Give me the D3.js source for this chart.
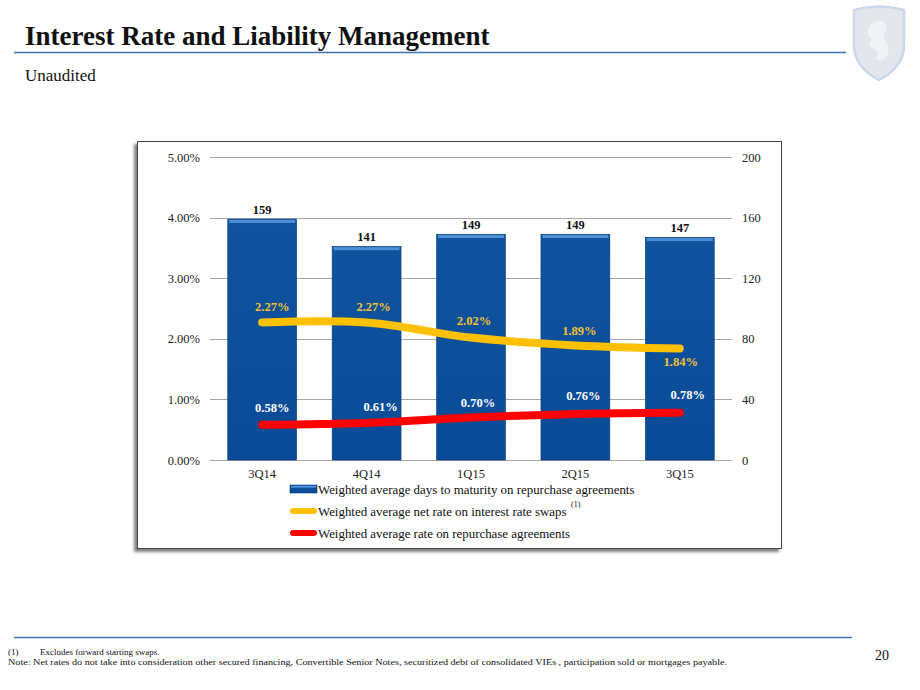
<!DOCTYPE html>
<html>
<head>
<meta charset="utf-8">
<script src="https://cdn.jsdelivr.net/npm/d3@7"></script>
<style>
  body { margin: 0; background: #fff; }
  svg { display: block; }
  svg text { font-family: "Liberation Serif", "DejaVu Serif", serif; }
</style>
</head>
<body>
<div class="chart"></div>
<script>
// data
const quarters = ["3Q14", "4Q14", "1Q15", "2Q15", "3Q15"];
const daysToMaturity = [159, 141, 149, 149, 147];
const swapRate = [2.27, 2.27, 2.02, 1.89, 1.84];
const repoRate = [0.58, 0.61, 0.70, 0.76, 0.78];
const leftTicks = [0, 1, 2, 3, 4, 5];
const rightTicks = [0, 40, 80, 120, 160, 200];
const legendLabels = [
  "Weighted average days to maturity on repurchase agreements",
  "Weighted average net rate on interest rate swaps",
  "Weighted average rate on repurchase agreements"
];

const W = 920, H = 690;
const svg = d3.select(".chart").append("svg")
  .attr("width", W).attr("height", H);

const defs = svg.append("defs");
const grad = defs.append("linearGradient").attr("id", "barGrad")
  .attr("x1", 0).attr("y1", 0).attr("x2", 0).attr("y2", 1);
grad.append("stop").attr("offset", "0%").attr("stop-color", "#0f539f");
grad.append("stop").attr("offset", "100%").attr("stop-color", "#0a4b97");
const shadow = defs.append("filter").attr("id", "shadow")
  .attr("x", "-5%").attr("y", "-5%").attr("width", "110%").attr("height", "110%");
shadow.append("feGaussianBlur").attr("in", "SourceAlpha").attr("stdDeviation", 1.5);
shadow.append("feOffset").attr("dx", -3).attr("dy", 3).attr("result", "b");
shadow.append("feComponentTransfer").attr("in", "b").attr("result", "c")
  .append("feFuncA").attr("type", "linear").attr("slope", 0.5);
const fm = shadow.append("feMerge");
fm.append("feMergeNode").attr("in", "c");
fm.append("feMergeNode").attr("in", "SourceGraphic");

/* slide header */
svg.append("text").attr("x", 25).attr("y", 45)
  .attr("font-size", 27).attr("font-weight", "bold").attr("fill", "#111")
  .text("Interest Rate and Liability Management");
svg.append("line").attr("x1", 14).attr("x2", 846).attr("y1", 52.5).attr("y2", 52.5)
  .attr("stroke", "#3f73b3").attr("stroke-width", 1.5);
svg.append("text").attr("x", 25).attr("y", 81)
  .attr("font-size", 17).attr("fill", "#111").text("Unaudited");

// faint shield logo
const logo = svg.append("g").attr("transform", "translate(852,5)");
logo.append("path")
  .attr("d", "M2,5 Q27,-2 52,5 L52,40 Q52,62 27,75 Q2,62 2,40 Z")
  .attr("fill", "#e3e6ea").attr("stroke", "#cbd8ea").attr("stroke-width", 2.5);
logo.append("path")
  .attr("d", "M16,24 Q20,14 30,16 Q36,18 34,26 Q30,30 33,36 Q40,44 34,52 Q30,58 24,54 Q28,48 22,44 Q14,40 20,34 Q14,30 16,24 Z")
  .attr("fill", "#f2f3f5").attr("opacity", 0.9);

/* chart frame */
svg.append("rect").attr("x", 137.5).attr("y", 141.5).attr("width", 644).attr("height", 407)
  .attr("fill", "#fff").attr("stroke", "#444").attr("stroke-width", 1)
  .attr("filter", "url(#shadow)");

const plot = {left: 210, right: 732, top: 157, bottom: 460};

const x = d3.scaleBand().domain(quarters)
  .range([plot.left, plot.right]).paddingInner(0.34).paddingOuter(0.17);
const yRate = d3.scaleLinear().domain([0, 5]).range([plot.bottom, plot.top]);
const yDays = d3.scaleLinear().domain([0, 200]).range([plot.bottom, plot.top]);
const cx = d => x(d) + x.bandwidth() / 2;

// gridlines
svg.append("g").selectAll("line").data(leftTicks).join("line")
  .attr("x1", plot.left).attr("x2", plot.right)
  .attr("y1", d => Math.round(yRate(d)) + 0.5).attr("y2", d => Math.round(yRate(d)) + 0.5)
  .attr("stroke", "#a6a6a6").attr("stroke-width", 1);

function styleAxis(g) {
  g.attr("font-family", null);
  g.select(".domain").remove();
  g.selectAll("text").attr("font-size", 12.5).attr("fill", "#222");
}

// left axis
const yAxisL = d3.axisLeft(yRate).tickValues(leftTicks)
  .tickFormat(d => d.toFixed(2) + "%").tickSize(0).tickPadding(10);
svg.append("g").attr("transform", `translate(${plot.left},0)`).call(yAxisL).call(styleAxis);

// right axis
const yAxisR = d3.axisRight(yDays).tickValues(rightTicks).tickSize(0).tickPadding(10);
svg.append("g").attr("transform", `translate(${plot.right},0)`).call(yAxisR).call(styleAxis);

// bottom axis
const xAxis = d3.axisBottom(x).tickSize(0).tickPadding(9);
svg.append("g").attr("transform", `translate(0,${plot.bottom})`).call(xAxis).call(styleAxis);

/* bars */
const bars = svg.append("g").selectAll("g").data(quarters).join("g");
bars.append("rect")
  .attr("x", d => x(d)).attr("width", x.bandwidth())
  .attr("y", (d, i) => yDays(daysToMaturity[i]))
  .attr("height", (d, i) => plot.bottom - yDays(daysToMaturity[i]))
  .attr("fill", "url(#barGrad)").attr("stroke", "#083c7a").attr("stroke-width", 0.6);
bars.append("rect")
  .attr("x", d => x(d) + 1.5).attr("width", x.bandwidth() - 3)
  .attr("y", (d, i) => yDays(daysToMaturity[i]) + 0.8).attr("height", 3)
  .attr("fill", "#4f8fd8");
bars.append("text")
  .attr("x", d => cx(d))
  .attr("y", (d, i) => yDays(daysToMaturity[i]) - 5)
  .attr("text-anchor", "middle").attr("font-size", 12.5).attr("font-weight", "bold")
  .attr("fill", "#111")
  .text((d, i) => daysToMaturity[i]);

/* lines */
const line = d3.line()
  .x(d => cx(d.q)).y(d => yRate(d.v))
  .curve(d3.curveCatmullRom.alpha(0.5));

svg.append("path")
  .datum(quarters.map((q, i) => ({q, v: swapRate[i]})))
  .attr("d", line).attr("fill", "none")
  .attr("stroke", "#ffc000").attr("stroke-width", 8).attr("stroke-linecap", "round");

svg.append("path")
  .datum(quarters.map((q, i) => ({q, v: repoRate[i]})))
  .attr("d", line).attr("fill", "none")
  .attr("stroke", "#ff0000").attr("stroke-width", 8).attr("stroke-linecap", "round");

// line labels (baseline offsets from the point)
const swapOffset = [-11, -11, -12.5, -10.5, 17.5];
const swapDx = [10, 7, 3, 4, 1];
svg.append("g").selectAll("text").data(quarters).join("text")
  .attr("x", (d, i) => cx(d) + swapDx[i])
  .attr("y", (d, i) => yRate(swapRate[i]) + swapOffset[i])
  .attr("text-anchor", "middle").attr("font-size", 12.5).attr("font-weight", "bold")
  .attr("fill", "#f2c230")
  .text((d, i) => swapRate[i].toFixed(2) + "%");

const repoOffset = [-13, -12, -10.5, -14, -13.5];
const repoDx = [10, 14, 7, 8, 8];
svg.append("g").selectAll("text").data(quarters).join("text")
  .attr("x", (d, i) => cx(d) + repoDx[i])
  .attr("y", (d, i) => yRate(repoRate[i]) + repoOffset[i])
  .attr("text-anchor", "middle").attr("font-size", 12.5).attr("font-weight", "bold")
  .attr("fill", "#fff")
  .text((d, i) => repoRate[i].toFixed(2) + "%");

/* legend */
const legend = svg.append("g").attr("transform", "translate(290,489)");
const items = legend.selectAll("g").data(legendLabels).join("g")
  .attr("transform", (d, i) => `translate(0,${i * 22})`);
items.each(function(d, i) {
  const g = d3.select(this);
  if (i === 0) {
    g.append("rect").attr("x", 0).attr("y", -4).attr("width", 27).attr("height", 8)
      .attr("fill", "url(#barGrad)").attr("stroke", "#083c7a").attr("stroke-width", 0.6);
    g.append("rect").attr("x", 1).attr("y", -3.3).attr("width", 25).attr("height", 2)
      .attr("fill", "#4f8fd8");
  } else {
    g.append("line").attr("x1", 3).attr("x2", 24).attr("y1", 0).attr("y2", 0)
      .attr("stroke", i === 1 ? "#ffc000" : "#ff0000").attr("stroke-width", 6)
      .attr("stroke-linecap", "round");
  }
  g.append("text").attr("x", 28).attr("y", 4.5)
    .attr("font-size", 12.9).attr("fill", "#111").text(d);
});
legend.append("text").attr("x", 281).attr("y", 18)
  .attr("font-size", 8).attr("fill", "#111").text("(1)");

/* footer */
svg.append("line").attr("x1", 14).attr("x2", 852).attr("y1", 637.5).attr("y2", 637.5)
  .attr("stroke", "#3f73b3").attr("stroke-width", 1.5);
svg.append("text").attr("x", 8).attr("y", 655).attr("font-size", 9).attr("fill", "#111")
  .text("(1)");
svg.append("text").attr("x", 40).attr("y", 655).attr("font-size", 9).attr("fill", "#111")
  .text("Excludes forward starting swaps.");
svg.append("text").attr("x", 8).attr("y", 665).attr("font-size", 9).attr("fill", "#111")
  .attr("textLength", 719).attr("lengthAdjust", "spacingAndGlyphs")
  .text("Note:  Net rates do not take into consideration other secured financing, Convertible Senior Notes, securitized debt of consolidated VIEs , participation sold or mortgages payable.");
svg.append("text").attr("x", 875).attr("y", 660).attr("font-size", 14).attr("fill", "#111")
  .text("20");
</script>
</body>
</html>
